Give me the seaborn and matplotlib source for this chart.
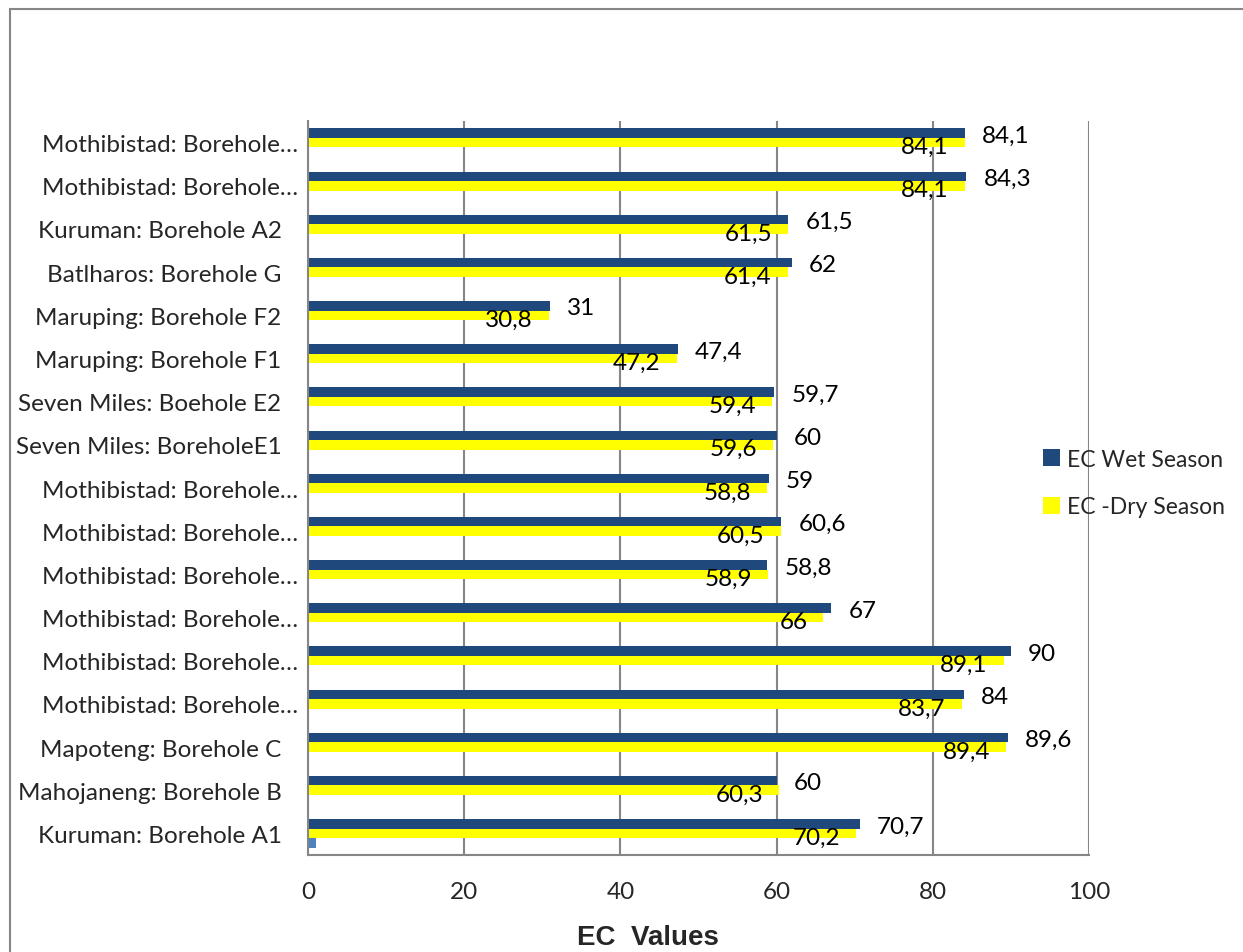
import matplotlib
matplotlib.use("Agg")
import matplotlib.pyplot as plt
from matplotlib.lines import Line2D
from matplotlib.patches import Patch
from matplotlib.transforms import ScaledTranslation
import seaborn as sns
import pandas as pd

# Sampling sites, listed top to bottom as they appear on the axis
sites = [
    "Mothibistad: Borehole…",
    "Mothibistad: Borehole…",
    "Kuruman: Borehole A2",
    "Batlharos: Borehole G",
    "Maruping: Borehole F2",
    "Maruping: Borehole F1",
    "Seven Miles: Boehole E2",
    "Seven Miles: BoreholeE1",
    "Mothibistad: Borehole…",
    "Mothibistad: Borehole…",
    "Mothibistad: Borehole…",
    "Mothibistad: Borehole…",
    "Mothibistad: Borehole…",
    "Mothibistad: Borehole…",
    "Mapoteng: Borehole C",
    "Mahojaneng: Borehole B",
    "Kuruman: Borehole A1",
]
ec_wet = [84.1, 84.3, 61.5, 62, 31, 47.4, 59.7, 60, 59, 60.6, 58.8, 67, 90, 84, 89.6, 60, 70.7]
ec_dry = [84.1, 84.1, 61.5, 61.4, 30.8, 47.2, 59.4, 59.6, 58.8, 60.5, 58.9, 66, 89.1, 83.7, 89.4, 60.3, 70.2]
ec_other = [0, 0, 0, 0, 0, 0, 0, 0, 0, 0, 0, 0, 0, 0, 0, 0, 1.0]

series = ["EC Wet Season", "EC -Dry Season", "Series3"]
colors = ["#1F497D", "#FFFF00", "#4F81BD"]
x_ticks = [0, 20, 40, 60, 80, 100]

grey = "#868686"
fs = 17.5

sns.set_theme(style="white")
plt.rcParams["font.family"] = ["Lato", "DejaVu Sans"]

fig = plt.figure(figsize=(12.43, 9.53), dpi=100)
W, H = 1243, 953
ax = fig.add_axes([308 / W, 1 - 856 / H, (1089 - 308) / W, (856 - 122) / H])

rows = []
for i, (w, d, o) in enumerate(zip(ec_wet, ec_dry, ec_other)):
    rows.append((i, series[0], w))
    rows.append((i, series[1], d))
    rows.append((i, series[2], o))
df = pd.DataFrame(rows, columns=["site", "season", "ec"])

bar_width = 0.66
sns.barplot(data=df, y="site", x="ec", hue="season", hue_order=series,
            orient="h", palette=colors, width=bar_width, dodge=True,
            saturation=1, errorbar=None, legend=False, ax=ax, linewidth=0)

ax.set_xlim(0, 100)
ax.set_ylim(len(sites) - 0.5, -0.5)
ax.set_xticks(x_ticks)
ax.set_xticklabels([str(t) for t in x_ticks], fontsize=fs)
ax.set_yticks(range(len(sites)))
ax.set_yticklabels(sites, fontsize=fs)
ax.set_yticks([k - 0.5 for k in range(len(sites) + 1)], minor=True)
ax.tick_params(axis="y", which="major", length=0, pad=19)
ax.tick_params(axis="y", which="minor", length=8, width=1.5, color=grey, direction="out")
ax.tick_params(axis="x", length=6, width=1.5, color=grey, direction="out", pad=13)
ax.set_xlabel("")
ax.set_ylabel("")

for lbl in ax.get_yticklabels():
    if lbl.get_text().endswith("…"):
        lbl.set_transform(lbl.get_transform() + ScaledTranslation(17 / 100, 0, fig.dpi_scale_trans))

ax.xaxis.grid(True, color=grey, linewidth=1.5)
ax.set_axisbelow(True)
for side in ["top", "right"]:
    ax.spines[side].set_visible(False)
for side in ["left", "bottom"]:
    ax.spines[side].set_color(grey)
    ax.spines[side].set_linewidth(1.5)


def fmt(v):
    return f"{v:g}".replace(".", ",")


off = bar_width / 3
for i, (w, d) in enumerate(zip(ec_wet, ec_dry)):
    ax.annotate(fmt(w), xy=(w, i - off), xytext=(17, -2), textcoords="offset pixels",
                ha="left", va="center", fontsize=fs, color="black")
    ax.annotate(fmt(d), xy=(d, i), xytext=(-16, -4), textcoords="offset pixels",
                ha="right", va="center", fontsize=fs, color="black")

handles = [Patch(facecolor=colors[0], edgecolor="none"), Patch(facecolor=colors[1], edgecolor="none")]
fig.legend(handles, series[:2], loc="center left", bbox_to_anchor=(1022 / W, 1 - 484 / H),
           frameon=False, fontsize=16.5, handlelength=0.75, handleheight=0.75,
           handletextpad=0.3, labelspacing=1.15)

fig.text(648 / W, 1 - 938 / H, "EC  Values", ha="center", va="center",
         family="Liberation Sans", fontsize=20, fontweight="bold")

# chart frame
fig.add_artist(Line2D([10 / W, 10 / W], [0, 1 - 10 / H], transform=fig.transFigure,
                      color=grey, linewidth=1.5))
fig.add_artist(Line2D([10 / W, 1], [1 - 10 / H, 1 - 10 / H], transform=fig.transFigure,
                      color=grey, linewidth=1.5))

fig.savefig("out.png", dpi=100, facecolor="white")
